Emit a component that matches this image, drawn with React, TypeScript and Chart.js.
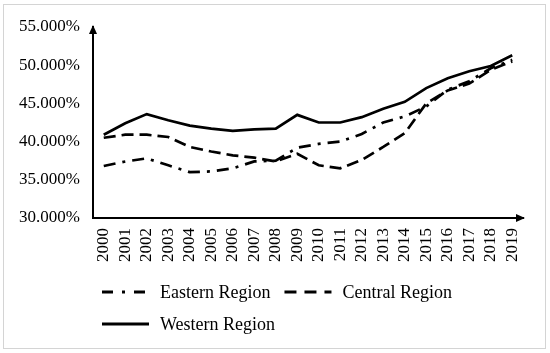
import React, { useEffect, useRef } from "react";
import { Chart, registerables } from "chart.js";

Chart.register(...registerables);

const categories = ["2000","2001","2002","2003","2004","2005","2006","2007","2008","2009","2010","2011","2012","2013","2014","2015","2016","2017","2018","2019"];
const seriesNames = ["Eastern Region", "Central Region", "Western Region"];
const eastern = [36.8, 37.4, 37.8, 36.9, 36.0, 36.1, 36.5, 37.4, 37.5, 39.2, 39.7, 40.0, 41.0, 42.5, 43.3, 44.6, 46.8, 47.9, 49.6, 50.7];
const central = [40.5, 40.9, 40.9, 40.6, 39.3, 38.7, 38.2, 37.9, 37.4, 38.4, 36.9, 36.5, 37.6, 39.3, 41.1, 45.0, 46.7, 47.6, 49.4, 50.5];
const western = [40.9, 42.4, 43.6, 42.8, 42.1, 41.7, 41.4, 41.6, 41.7, 43.5, 42.5, 42.5, 43.2, 44.3, 45.2, 47.0, 48.3, 49.2, 49.9, 51.3];
const yMin = 30;
const yMax = 55;
const yStep = 5;

const FONT = "'Liberation Serif', 'Times New Roman', serif";

const frame = {
  id: "frame",
  beforeDraw(chart: any) {
    const { ctx, width, height } = chart;
    ctx.save();
    ctx.fillStyle = "#fff";
    ctx.fillRect(0, 0, width, height);
    ctx.strokeStyle = "#d4d4d4";
    ctx.lineWidth = 1;
    ctx.strokeRect(3.5, 4.5, width - 8, height - 9);
    ctx.restore();
  },
};

const arrows = {
  id: "arrows",
  afterDraw(chart: any) {
    const { ctx } = chart;
    const { left, right, top, bottom } = chart.chartArea;
    ctx.save();
    ctx.fillStyle = "#000";
    ctx.beginPath();
    ctx.moveTo(left, top - 2);
    ctx.lineTo(left - 4, top + 7);
    ctx.lineTo(left + 4, top + 7);
    ctx.closePath();
    ctx.fill();
    ctx.beginPath();
    ctx.moveTo(right + 2, bottom);
    ctx.lineTo(right - 7, bottom - 4);
    ctx.lineTo(right - 7, bottom + 4);
    ctx.closePath();
    ctx.fill();
    ctx.restore();
  },
};

const lineLegend = {
  id: "lineLegend",
  afterDraw(chart: any) {
    const { ctx } = chart;
    const { left, right, bottom } = chart.chartArea;
    const sampleW = 47;
    const textGap = 11;
    const itemGap = 14;
    const rowH = 32;
    const startX = left + 9;
    let x = startX;
    let y = bottom + 74;
    ctx.save();
    ctx.font = "18px " + FONT;
    ctx.textBaseline = "middle";
    ctx.textAlign = "left";
    chart.data.datasets.forEach((ds: any) => {
      const tw = ctx.measureText(ds.label).width;
      const w = sampleW + textGap + tw;
      if (x > startX && x + w > right) {
        x = startX;
        y += rowH;
      }
      ctx.strokeStyle = ds.borderColor;
      ctx.lineWidth = 3;
      ctx.setLineDash(ds.legendDash || []);
      ctx.beginPath();
      ctx.moveTo(x, y);
      ctx.lineTo(x + sampleW, y);
      ctx.stroke();
      ctx.setLineDash([]);
      ctx.fillStyle = "#000";
      ctx.fillText(ds.label, x + sampleW + textGap, y + 1);
      x += w + itemGap;
    });
    ctx.restore();
  },
};

export default function App() {
  const ref = useRef<HTMLCanvasElement>(null);
  useEffect(() => {
    if (!ref.current) return;
    const chart = new Chart(ref.current, {
      type: "line",
      data: {
        labels: categories,
        datasets: [
          { label: seriesNames[0], data: eastern, borderColor: "#000", backgroundColor: "#000", borderWidth: 2.7, borderDash: [12, 7, 3, 7], legendDash: [11, 9, 3, 9], pointRadius: 0, tension: 0 } as any,
          { label: seriesNames[1], data: central, borderColor: "#000", backgroundColor: "#000", borderWidth: 2.7, borderDash: [12, 6], legendDash: [12, 8], pointRadius: 0, tension: 0 } as any,
          { label: seriesNames[2], data: western, borderColor: "#000", backgroundColor: "#000", borderWidth: 2.7, legendDash: [], pointRadius: 0, tension: 0 } as any,
        ],
      },
      options: {
        responsive: false,
        animation: false,
        layout: { padding: { left: 0, right: 27, top: 27, bottom: 85 } },
        plugins: {
          tooltip: { enabled: false },
          legend: { display: false },
        },
        scales: {
          x: {
            offset: true,
            grid: { display: false, drawTicks: false },
            border: { display: true, color: "#000", width: 2 },
            ticks: { color: "#000", font: { family: FONT, size: 17 }, minRotation: 90, maxRotation: 90, autoSkip: false, padding: 10 },
            afterFit(scale: any) { scale.height = 50; },
          },
          y: {
            min: yMin,
            max: yMax,
            grid: { display: false, drawTicks: false },
            border: { display: true, color: "#000", width: 2 },
            ticks: {
              stepSize: yStep,
              color: "#000",
              font: { family: FONT, size: 17 },
              padding: 13,
              callback: (v: any) => Number(v).toFixed(3) + "%",
            },
            afterFit(scale: any) { scale.width = 93; },
          },
        },
      },
      plugins: [frame, arrows, lineLegend],
    });
    return () => chart.destroy();
  }, []);
  return (
    <div style={{ position: "fixed", left: 0, top: 0, width: 550, height: 353 }}>
      <canvas ref={ref} width={550} height={353} style={{ display: "block" }} />
    </div>
  );
}
